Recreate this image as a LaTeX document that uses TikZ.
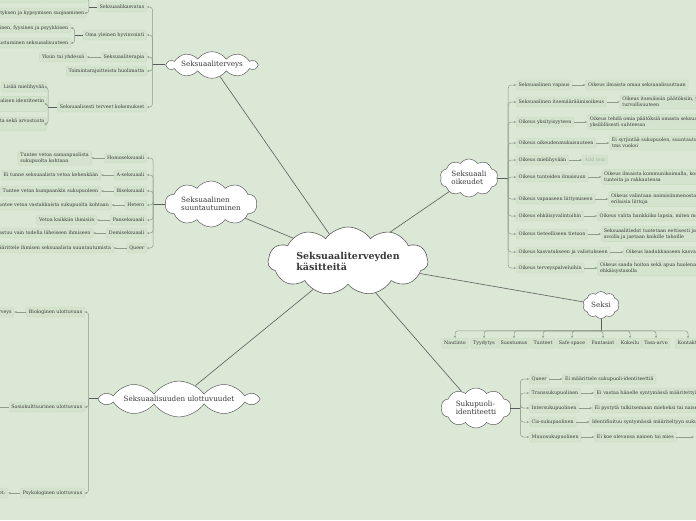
\documentclass[tikz,border=0pt]{standalone}
\usepackage{fontspec}
\setmainfont{DejaVu Serif}
\usepackage{tikz}
\usetikzlibrary{arrows.meta,positioning,shapes.symbols}
\definecolor{sage}{HTML}{DCE8D6}
\definecolor{boxfill}{HTML}{D3E3CD}
\definecolor{boxline}{HTML}{C8DBC2}
\definecolor{spinegrey}{HTML}{8E9C8A}
\definecolor{bk70}{HTML}{5C5C5C}
\definecolor{ink}{HTML}{3A3A3A}
\definecolor{hint}{HTML}{A3B59F}
\tikzset{
  topic/.style={cloud, cloud puffs=11, cloud puff arc=110, cloud ignores aspect,
    draw=bk70, fill=white, line width=0.6pt, text=ink, align=left,
    font=\fontsize{9.5}{11}\selectfont\bfseries},
  branch/.style={cloud, cloud puffs=10, cloud puff arc=110, cloud ignores aspect,
    draw=bk70, fill=white, line width=0.5pt, text=ink, align=left,
    inner sep=1pt, font=\fontsize{7.2}{8}\selectfont},
  item/.style={rectangle, rounded corners=1.5pt, draw=boxline, fill=boxfill,
    text=ink, align=left, inner xsep=2.5pt, inner ysep=2pt,
    minimum height=10pt, font=\fontsize{4.8}{5.9}\selectfont},
  stub/.style={draw=bk70, line width=0.9pt},
  substub/.style={draw=bk70, line width=0.5pt},
  spine/.style={draw=spinegrey, line width=0.5pt, rounded corners=3pt,
    -{Stealth[length=2pt,width=2pt]}},
  leaf/.style={draw=spinegrey, line width=0.5pt,
    -{Stealth[length=2.5pt,width=2pt]}},
  link/.style={draw=bk70, line width=0.6pt},
}
\begin{document}
\begin{tikzpicture}[x=1pt, y=-1pt]
  \useasboundingbox[fill=sage] (0,0) rectangle (696,520);

  % keskus ja paahaarat
  \node[topic, minimum width=160pt, minimum height=68pt] (root) at (348,261) {Seksuaaliterveyden\\käsitteitä};
  \node[branch, minimum width=90pt, minimum height=26pt] (terveys) at (212,65) {Seksuaaliterveys};
  \node[branch, minimum width=92pt, minimum height=46pt] (suunta) at (211,204) {Seksuaalinen\\suuntautuminen};
  \node[branch, minimum width=58pt, minimum height=38pt] (oikeudet) at (469,178) {Seksuaali\\oikeudet};
  \node[branch, minimum width=36pt, minimum height=27pt] (seksi) at (601,305) {Seksi};
  \node[branch, minimum width=70pt, minimum height=40pt] (identiteetti) at (476,408) {Sukupuoli-\\identiteetti};
  \node[branch, minimum width=156pt, minimum height=28pt] (ulottuvuudet) at (179,399) {Seksuaalisuuden ulottuvuudet};
  \foreach \b in {terveys,suunta,oikeudet,seksi,identiteetti,ulottuvuudet}
    \draw[link] (root) -- (\b);

  % Seksuaaliterveys
  \node[item, anchor=east] (kasvatus) at (147,7) {Seksuaalikasvatus};
  \node[item, anchor=east] (hyvinvointi) at (147,35) {Oma yleinen hyvinvointi};
  \node[item, anchor=east] (terapia) at (147,57) {Seksuaaliterapia};
  \node[item, anchor=east] (rajoitteet) at (147,71) {Toimintarajoitteista huolimatta};
  \node[item, anchor=east] (kokemukset) at (147,107) {Seksuaalisesti terveet kokemukset};
  \draw[stub] (terveys.west) -- ++(-13,0) coordinate (tsp);
  \foreach \c in {kasvatus,hyvinvointi,terapia,rajoitteet,kokemukset}
    \draw[spine] (tsp) |- (\c.east);

  \node[item, anchor=east] (kasvatusA) at (87,-2) {Oman seksuaalisuuden tunnistaminen ja arvostaminen};
  \node[item, anchor=east] (kasvatusB) at (87,13) {Kasvun, kehityksen ja kypsymisen suojaaminen};
  \draw[substub] (kasvatus.west) -- ++(-8,0) coordinate (ksp);
  \foreach \c in {kasvatusA,kasvatusB}
    \draw[spine] (ksp) |- (\c.east);

  \node[item, anchor=east] (hyvinvointiA) at (71,28) {Sosiaalinen, fyysinen ja psyykkinen};
  \node[item, anchor=east] (hyvinvointiB) at (71,43) {Tutustuminen seksuaalisuuteen};
  \draw[substub] (hyvinvointi.west) -- ++(-8,0) coordinate (hsp);
  \foreach \c in {hyvinvointiA,hyvinvointiB}
    \draw[spine] (hsp) |- (\c.east);

  \node[item, left=14pt of terapia] (terapiaL) {Yksin tai yhdessä};
  \draw[leaf] (terapia) -- (terapiaL);

  \node[item, anchor=east] (kokemuksetA) at (47,87) {Lisää mielihyvää};
  \node[item, anchor=east] (kokemuksetB) at (47,104) {Tukee myönteisen seksuaalisen identiteetin\\kehittymistä};
  \node[item, anchor=east] (kokemuksetC) at (47,124) {Lisää luottamusta, kunnioitusta sekä arvostusta\\toisia kohtaan};
  \draw[substub] (kokemukset.west) -- ++(-9,0) coordinate (esp);
  \foreach \c in {kokemuksetA,kokemuksetB,kokemuksetC}
    \draw[spine] (esp) |- (\c.east);

  % Seksuaalinen suuntautuminen
  \node[item, anchor=east] (homo) at (147,158) {Homoseksuaali};
  \node[item, anchor=east] (ase) at (147,175) {A-seksuaali};
  \node[item, anchor=east] (bi) at (147,191) {Biseksuaali};
  \node[item, anchor=east] (hetero) at (147,205) {Hetero};
  \node[item, anchor=east] (pan) at (147,220) {Panseksuaali};
  \node[item, anchor=east] (demi) at (147,233) {Demiseksuaali};
  \node[item, anchor=east] (queerS) at (147,248) {Queer};
  \draw[stub] (suunta.west) -- ++(-12,0) coordinate (ssp);
  \foreach \c in {homo,ase,bi,hetero,pan,demi,queerS}
    \draw[spine] (ssp) |- (\c.east);

  \node[item, left=13pt of homo] (homoL) {Tuntee vetoa samanpuolista\\sukupuolta kohtaan};
  \node[item, left=13pt of ase] (aseL) {Ei tunne seksuaalista vetoa kehenkään};
  \node[item, left=13pt of bi] (biL) {Tuntee vetoa kumpaankin sukupuoleen};
  \node[item, left=13pt of hetero] (heteroL) {Tuntee vetoa vastakkaista sukupuolta kohtaan};
  \node[item, left=13pt of pan] (panL) {Vetoa kaikkiin ihmisiin};
  \node[item, left=13pt of demi] (demiL) {Ihastuu vain todella läheiseen ihmiseen};
  \node[item, left=13pt of queerS] (queerSL) {Ei määrittele ihmisen seksuaalista suuntautumista};
  \foreach \c in {homo,ase,bi,hetero,pan,demi,queerS}
    \draw[leaf] (\c) -- (\c L);

  % Seksuaaliset oikeudet
  \node[item, anchor=west] (vapaus) at (516,85) {Seksuaalinen vapaus};
  \node[item, anchor=west] (itsemaar) at (516,102) {Seksuaalinen itsemääräämisoikeus};
  \node[item, anchor=west] (yksityis) at (516,122) {Oikeus yksityisyyteen};
  \node[item, anchor=west] (oikeudenm) at (516,143) {Oikeus oikeudenmukaisuuteen};
  \node[item, anchor=west] (mielihyva) at (516,160) {Oikeus mielihyvään};
  \node[item, anchor=west] (tunteet) at (516,177) {Oikeus tunteiden ilmaisuun};
  \node[item, anchor=west] (liitto) at (516,199) {Oikeus vapaaseen liittymiseen};
  \node[item, anchor=west] (ehkaisy) at (516,216) {Oikeus ehkäisyvalintoihin};
  \node[item, anchor=west] (tieto) at (516,234) {Oikeus tieteelliseen tietoon};
  \node[item, anchor=west] (valistus) at (516,252) {Oikeus kasvatukseen ja valistukseen};
  \node[item, anchor=west] (palvelut) at (516,268) {Oikeus terveyspalveluihin};
  \draw[stub] (oikeudet.east) -- ++(11,0) coordinate (osp);
  \foreach \c in {vapaus,itsemaar,yksityis,oikeudenm,mielihyva,tunteet,liitto,ehkaisy,tieto,valistus,palvelut}
    \draw[spine] (osp) |- (\c.west);

  \node[item, right=13pt of vapaus] (vapausL) {Oikeus ilmaista omaa seksuaalisuuttaan};
  \node[item, right=13pt of itsemaar] (itsemaarL) {Oikeus itsenäisiin päätöksiin, yksityisyyteen ja\\turvallisuuteen};
  \node[item, right=13pt of yksityis] (yksityisL) {Oikeus tehdä omia päätöksiä omasta seksuaalisuudesta\\yksilöllisesti suhteessa};
  \node[item, right=13pt of oikeudenm] (oikeudenmL) {Ei syrjintää sukupuolen, suuntautumisen, iän\\tms vuoksi};
  \node[item, right=13pt of mielihyva, text=hint] (mielihyvaL) {Add text};
  \node[item, right=13pt of tunteet] (tunteetL) {Oikeus ilmaista kommunikoimalla, koskettamalla\\tunteita ja rakkautensa};
  \node[item, right=13pt of liitto] (liittoL) {Oikeus valintaan naimisiinmenosta ja\\erilaisia liittoja};
  \node[item, right=13pt of ehkaisy] (ehkaisyL) {Oikeus valita hankkiiko lapsia, miten monta};
  \node[item, right=13pt of tieto] (tietoL) {Seksuaalitiedot tuotetaan eettisesti ja\\avoilla ja jaetaan kaikille tahoille};
  \node[item, right=13pt of valistus] (valistusL) {Oikeus laadukkaaseen kasvatukseen};
  \node[item, right=13pt of palvelut] (palvelutL) {Oikeus saada hoitoa sekä apua huolenaiheisiin\\ehkäisystasolla};
  \foreach \c in {vapaus,itsemaar,yksityis,oikeudenm,mielihyva,tunteet,liitto,ehkaisy,tieto,valistus,palvelut}
    \draw[leaf] (\c) -- (\c L);

  % Seksi
  \node[item, anchor=north] (nautinto) at (455,338) {Nautinto};
  \node[item, anchor=north] (tyydytys) at (484,338) {Tyydytys};
  \node[item, anchor=north] (suostumus) at (514,338) {Suostumus};
  \node[item, anchor=north] (tunteetX) at (543,338) {Tunteet};
  \node[item, anchor=north] (safe) at (572,338) {Safe space};
  \node[item, anchor=north] (fantasiat) at (603,338) {Fantasiat};
  \node[item, anchor=north] (kokeilu) at (630,338) {Kokeilu};
  \node[item, anchor=north] (tasaarvo) at (656,338) {Tasa-arvo};
  \node[item, anchor=north] (kontakti) at (688,338) {Kontakti};
  \draw[stub] (seksi.south) -- ++(0,12) coordinate (xsp);
  \foreach \c in {nautinto,tyydytys,suostumus,tunteetX,safe,fantasiat,kokeilu,tasaarvo,kontakti}
    \draw[spine] (xsp) -| (\c.north);

  % Sukupuoli-identiteetti
  \node[item, anchor=west] (queerI) at (529,379) {Queer};
  \node[item, anchor=west] (trans) at (529,393) {Transsukupuolinen};
  \node[item, anchor=west] (inter) at (529,408) {Intersukupuolinen};
  \node[item, anchor=west] (cis) at (529,422) {Cis-sukupuolinen};
  \node[item, anchor=west] (muun) at (529,437) {Muunsukupuolinen};
  \draw[stub] (identiteetti.east) -- ++(10,0) coordinate (isp);
  \foreach \c in {queerI,trans,inter,cis,muun}
    \draw[spine] (isp) |- (\c.west);

  \node[item, right=13pt of queerI] (queerIL) {Ei määrittele sukupuoli-identiteettiä};
  \node[item, right=13pt of trans] (transL) {Ei vastaa hänelle syntymässä määritettyä sukupuolta};
  \node[item, right=13pt of inter] (interL) {Ei pystytä tulkitsemaan mieheksi tai naiseksi};
  \node[item, right=13pt of cis] (cisL) {Identifioituu syntymässä määriteltyyn sukupuoleen};
  \node[item, right=13pt of muun] (muunL) {Ei koe olevansa nainen tai mies};
  \foreach \c in {queerI,trans,inter,cis,muun}
    \draw[leaf] (\c) -- (\c L);
  \coordinate (muunEnd) at (694,437);
  \draw[leaf] (muunL) -- (muunEnd);

  % Seksuaalisuuden ulottuvuudet
  \node[item, anchor=east] (bio) at (85,312) {Biologinen ulottuvuus};
  \node[item, anchor=east] (sosio) at (85,407) {Sosiokulttuurinen ulottuvuus};
  \node[item, anchor=east] (psyk) at (85,493) {Psykologinen ulottuvuus};
  \draw[stub] (ulottuvuudet.west) -- ++(-9,0) coordinate (usp);
  \foreach \c in {bio,sosio,psyk}
    \draw[spine] (usp) |- (\c.east);

  \node[item, left=12pt of bio] (bioL) {Lisääntymisterveys};
  \node[item, left=12pt of psyk] (psykL) {Tunteet ja ajatukset:};
  \coordinate (sosioEnd) at (-20,407);
  \draw[leaf] (bio) -- (bioL);
  \draw[leaf] (psyk) -- (psykL);
  \draw[leaf] (sosio) -- (sosioEnd);
\end{tikzpicture}
\end{document}
